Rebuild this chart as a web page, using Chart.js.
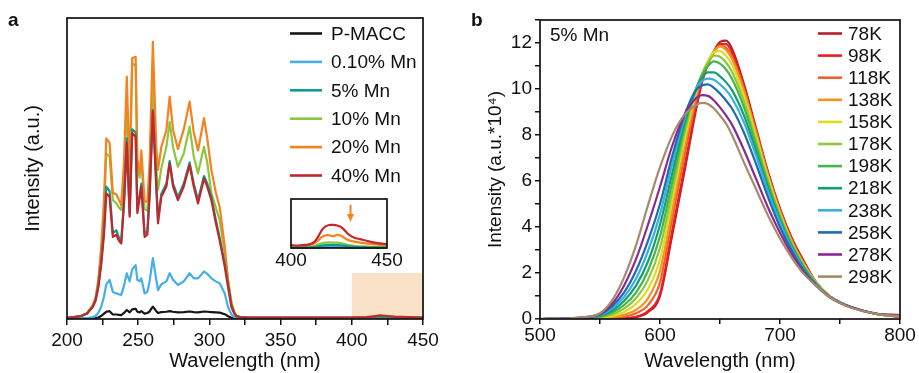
<!DOCTYPE html>
<html>
<head>
<meta charset="utf-8">
<script src="https://cdn.jsdelivr.net/npm/chart.js@4.4.0/dist/chart.umd.min.js"></script>
<style>
  html, body { margin: 0; padding: 0; background: #fff; }
  #pagina { position: relative; width: 919px; height: 373px; overflow: hidden; font-family: 'Liberation Sans', Arial, sans-serif; color: #111; }
  .caixa { position: absolute; }
  .letra { position: absolute; font-weight: bold; font-size: 19px; line-height: 22px; }
</style>
</head>
<body>
<div id="pagina">
  <div class="caixa" style="left:0;top:0;width:460px;height:373px"><canvas id="graficoA"></canvas></div>
  <div class="caixa" style="left:270px;top:190px;width:140px;height:85px"><canvas id="graficoInset"></canvas></div>
  <div class="caixa" style="left:460px;top:0;width:459px;height:373px"><canvas id="graficoB"></canvas></div>
  <div class="letra" style="left:8px;top:9px">a</div>
  <div class="letra" style="left:471px;top:9px">b</div>
</div>
<script>
Chart.defaults.font.family = "'Liberation Sans', Arial, sans-serif";
Chart.defaults.color = '#111';

// ---------- painel a: espectros de excitação ----------
var comprimentoA = [200, 205, 210, 214, 218, 220, 222, 224, 226, 227.6, 229.9, 232.2, 234.6, 236.5, 238.1, 240, 242, 244, 245.8, 248.2,
    249.4, 251, 252.2, 254.5, 256.4, 258, 260.3, 262.7, 263.9, 266.2, 269.8, 272.1, 274.5, 277.9, 282, 286.1, 289, 292, 296.2, 298.5,
    301.4, 304.5, 307.2, 310.8, 313.1, 315.5, 317.5, 319, 322, 326, 330, 340, 350, 360, 370, 380, 390, 400, 410, 415, 420, 425, 430, 440, 450];

var pMacc = [0.1, 0.1, 0.1, 0.15, 0.2, 0.3, 0.5, 1.0, 1.8, 2.4, 2.6, 1.5, 1.5, 1.4, 1.3, 2.0, 3.0, 2.2, 3.2, 3.4,
    2.4, 2.2, 2.6, 1.8, 2.0, 2.5, 4.1, 2.6, 2.0, 2.3, 2.4, 2.6, 2.4, 2.2, 2.3, 2.5, 2.3, 2.2, 2.5, 2.4,
    2.3, 2.2, 2.1, 1.6, 0.9, 0.4, 0.2, 0.1, 0.1, 0.1, 0.1, 0.1, 0.1, 0.1, 0.1, 0.1, 0.1, 0.1, 0.1, 0.1, 0.15, 0.1, 0.1, 0.1, 0.1];
var mn010 = [0.1, 0.15, 0.2, 0.3, 0.6, 1.0, 2.0, 4.0, 7.5, 11.5, 13, 9, 8.5, 8.2, 8, 11, 15.2, 12.5, 16.5, 17.9,
    13, 12.5, 13.5, 8.5, 9, 12.5, 20.2, 13, 9.6, 11.5, 12.5, 15.2, 13, 11.3, 12.5, 15.2, 13.5, 13.5, 15.8, 15,
    13.5, 12.5, 11.9, 8.5, 4.0, 1.5, 0.6, 0.3, 0.2, 0.15, 0.15, 0.15, 0.15, 0.15, 0.15, 0.15, 0.15, 0.15, 0.15, 0.15, 0.2, 0.25, 0.2, 0.15, 0.15];
var mn5 = [0.4, 0.6, 1.0, 1.8, 4.1, 6.2, 11, 19, 30, 44, 42.5, 28.5, 29.5, 27, 26, 39, 60, 35, 63, 62,
    36.5, 41, 45, 28.5, 29, 41.5, 69.5, 45, 33, 41.5, 45, 52.5, 45, 40.5, 45, 52, 45, 39.5, 47.5, 45,
    40.5, 33, 27, 18.2, 11.3, 4.3, 1.9, 0.9, 0.6, 0.5, 0.45, 0.45, 0.45, 0.45, 0.45, 0.45, 0.45, 0.45, 0.45, 0.5, 0.55, 0.5, 0.45, 0.45, 0.45];
var mn10 = [0.4, 0.6, 1.0, 1.8, 4.3, 6.5, 12, 22, 36, 55, 54, 39.5, 38.5, 37, 36.2, 46, 72, 46, 85, 84,
    50, 47, 53, 36.5, 36, 47, 82, 50, 42.9, 50, 57.2, 65.5, 57, 50.6, 55, 63.9, 54, 48.4, 57.2, 52,
    41.8, 37, 32.9, 21.8, 13, 5.5, 2.4, 1.1, 0.6, 0.5, 0.4, 0.4, 0.4, 0.4, 0.4, 0.4, 0.4, 0.4, 0.4, 0.45, 0.5, 0.45, 0.4, 0.4, 0.4];
var mn20 = [0.4, 0.6, 1.0, 1.8, 4.5, 7, 13, 24, 40, 60, 58.5, 41.8, 41.5, 39.5, 37.9, 52, 80.5, 48.5, 86.6, 87.1,
    52.8, 48.5, 56, 39, 39, 51.8, 92.1, 57.2, 49.5, 57, 62.8, 73.9, 62.8, 56.5, 63, 72.2, 62, 56, 66.7, 60,
    49.5, 42, 37.3, 24, 13, 5.2, 2.2, 1.0, 0.6, 0.5, 0.4, 0.4, 0.4, 0.4, 0.4, 0.4, 0.4, 0.4, 0.4, 0.5, 0.6, 0.5, 0.45, 0.4, 0.4];
var mn40 = [0.4, 0.6, 1.0, 1.8, 4.0, 6, 10.5, 18, 28, 41.7, 40.6, 27.3, 28, 26, 25.1, 38, 58.4, 34, 61.7, 60.6,
    35.2, 40, 44, 27.3, 28, 40.6, 68.9, 44, 31.8, 40.6, 44, 51.7, 44, 39.5, 44, 51.2, 44, 38.4, 46.7, 44,
    39.5, 32, 26.2, 17.4, 10.7, 4.0, 1.8, 0.9, 0.6, 0.5, 0.45, 0.45, 0.45, 0.45, 0.45, 0.45, 0.45, 0.5, 0.6, 0.9, 1.2, 1.0, 0.8, 0.6, 0.5];

var rotulosA = ['P-MACC', '0.10% Mn', '5% Mn', '10% Mn', '20% Mn', '40% Mn'];
var coresA = ['#161616', '#45aee8', '#11998c', '#8cc63f', '#f5821f', '#c1272d'];
var seriesA = [pMacc, mn010, mn5, mn10, mn20, mn40];
var ordemA = [5, 4, 1, 3, 2, 0];
var marcasA = [200, 250, 300, 350, 400, 450];
var faixaSombra = [400, 450];
var topoSombra = 15.3;

// ---------- inset 400-450 nm ----------
var comprimentoInset = [400, 403, 406, 409, 412, 414, 416, 418, 420, 422, 424, 426, 428, 430, 433, 436, 440, 445, 450];
var insetPMacc = [0, 0, 0, 0, 0.05, 0.1, 0.15, 0.2, 0.2, 0.2, 0.2, 0.2, 0.15, 0.1, 0.05, 0.05, 0, 0, 0];
var inset010 = [0, 0, 0.05, 0.05, 0.1, 0.2, 0.25, 0.3, 0.3, 0.3, 0.3, 0.25, 0.2, 0.15, 0.1, 0.1, 0.05, 0.05, 0.05];
var inset5 = [0.05, 0.05, 0.1, 0.1, 0.2, 0.35, 0.5, 0.6, 0.65, 0.65, 0.6, 0.55, 0.45, 0.35, 0.25, 0.2, 0.15, 0.1, 0.1];
var inset10 = [0.1, 0.1, 0.15, 0.2, 0.4, 0.7, 0.95, 1.1, 1.15, 1.1, 1.1, 1.0, 0.8, 0.6, 0.45, 0.35, 0.3, 0.2, 0.2];
var inset20 = [0.4, 0.3, 0.4, 0.5, 0.9, 1.5, 2.2, 2.6, 2.6, 2.4, 2.7, 2.5, 2.0, 1.6, 1.3, 1.1, 0.9, 0.7, 0.6];
var inset40 = [0.6, 0.5, 0.6, 0.7, 1.2, 2.2, 3.6, 4.4, 4.7, 4.7, 4.6, 4.3, 3.6, 2.8, 2.1, 1.8, 1.4, 1.0, 0.8];
var seriesInset = [insetPMacc, inset010, inset5, inset10, inset20, inset40];
var marcasInset = [400, 450];
var setaInset = { x: 431, de: 8.8, ate: 5.3 };

// ---------- painel b: 5% Mn, temperatura ----------
var comprimentoB = [500, 520, 540, 550, 560, 570, 580, 590, 600, 610, 620, 630, 635, 640, 645, 650, 655, 660, 670, 680,
    690, 700, 710, 720, 730, 740, 750, 760, 780, 800];
var k78 = [0, 0, 0, 0, 0, 0.02, 0.08, 0.3, 1.0, 3.6, 6.3, 9.1, 10.3, 11.1, 11.65, 12.05, 12.1, 11.75, 10.2, 8.3, 6.4, 4.8, 3.5, 2.5, 1.6, 1.05, 0.72, 0.5, 0.22, 0.1];
var k98 = [0, 0, 0, 0, 0.01, 0.03, 0.1, 0.35, 1.1, 3.8, 6.5, 9.2, 10.35, 11.1, 11.6, 11.95, 11.95, 11.6, 10.1, 8.2, 6.35, 4.75, 3.45, 2.45, 1.6, 1.05, 0.72, 0.5, 0.22, 0.1];
var k118 = [0, 0, 0.01, 0.02, 0.04, 0.1, 0.25, 0.6, 1.6, 4.3, 7.0, 9.5, 10.5, 11.15, 11.6, 11.88, 11.8, 11.4, 10.0, 8.15, 6.3, 4.7, 3.4, 2.4, 1.6, 1.05, 0.72, 0.5, 0.22, 0.1];
var k138 = [0, 0, 0.01, 0.03, 0.07, 0.18, 0.4, 0.9, 2.1, 4.7, 7.4, 9.7, 10.6, 11.2, 11.65, 11.85, 11.7, 11.3, 9.9, 8.1, 6.25, 4.65, 3.35, 2.38, 1.6, 1.05, 0.72, 0.5, 0.22, 0.12];
var k158 = [0, 0.01, 0.02, 0.05, 0.12, 0.3, 0.65, 1.3, 2.6, 5.1, 7.7, 9.85, 10.65, 11.2, 11.6, 11.65, 11.45, 11.05, 9.7, 7.95, 6.15, 4.6, 3.3, 2.35, 1.58, 1.05, 0.72, 0.5, 0.22, 0.12];
var k178 = [0, 0.01, 0.03, 0.08, 0.2, 0.45, 0.9, 1.7, 3.1, 5.5, 8.0, 9.95, 10.65, 11.15, 11.45, 11.4, 11.15, 10.75, 9.45, 7.75, 6.0, 4.5, 3.25, 2.3, 1.56, 1.04, 0.72, 0.5, 0.22, 0.12];
var k198 = [0, 0.01, 0.04, 0.1, 0.28, 0.6, 1.15, 2.1, 3.6, 5.9, 8.25, 10.0, 10.6, 11.0, 11.2, 11.1, 10.85, 10.45, 9.2, 7.55, 5.85, 4.4, 3.2, 2.25, 1.54, 1.03, 0.72, 0.5, 0.22, 0.13];
var k218 = [0, 0.02, 0.06, 0.14, 0.36, 0.78, 1.45, 2.5, 4.1, 6.3, 8.45, 10.0, 10.5, 10.72, 10.72, 10.55, 10.3, 9.95, 8.85, 7.3, 5.7, 4.3, 3.12, 2.2, 1.52, 1.02, 0.72, 0.5, 0.23, 0.13];
var k238 = [0, 0.02, 0.07, 0.17, 0.45, 0.95, 1.75, 2.95, 4.55, 6.7, 8.65, 10.0, 10.35, 10.45, 10.4, 10.2, 9.95, 9.6, 8.55, 7.1, 5.55, 4.2, 3.05, 2.15, 1.5, 1.02, 0.72, 0.5, 0.23, 0.14];
var k258 = [0, 0.02, 0.08, 0.2, 0.55, 1.15, 2.1, 3.4, 5.0, 7.05, 8.8, 9.95, 10.15, 10.2, 10.05, 9.8, 9.5, 9.15, 8.1, 6.75, 5.3, 4.0, 2.95, 2.1, 1.48, 1.01, 0.71, 0.5, 0.23, 0.15];
var k278 = [0, 0.02, 0.09, 0.22, 0.65, 1.45, 2.6, 4.1, 5.75, 7.5, 8.85, 9.6, 9.73, 9.7, 9.5, 9.2, 8.85, 8.45, 7.35, 6.1, 4.85, 3.75, 2.8, 2.02, 1.45, 1.0, 0.7, 0.5, 0.24, 0.17];
var k298 = [0, 0.02, 0.1, 0.25, 0.8, 1.8, 3.2, 4.95, 6.6, 7.95, 8.85, 9.3, 9.4, 9.35, 9.15, 8.85, 8.5, 8.0, 6.8, 5.65, 4.5, 3.5, 2.65, 1.95, 1.45, 1.0, 0.7, 0.48, 0.22, 0.12];

var temperaturas = ['78K', '98K', '118K', '138K', '158K', '178K', '198K', '218K', '238K', '258K', '278K', '298K'];
var coresB = ['#b5202a', '#ec1c24', '#f1602f', '#f7931e', '#d9df1f', '#8dc63f', '#45b649', '#12a06e', '#3aaee2', '#1c6cb4', '#8a2a90', '#a88a6b'];
var seriesB = [k78, k98, k118, k138, k158, k178, k198, k218, k238, k258, k278, k298];
var marcasBx = [500, 600, 700, 800];
var marcasBy = [0, 2, 4, 6, 8, 10, 12];

function pontos(xs, ys) {
    return xs.map(function (x, i) { return { x: x, y: ys[i] }; });
}

// moldura preta em volta da área do gráfico
var moldura = {
    id: 'moldura',
    afterDatasetsDraw: function (chart) {
        var ctx = chart.ctx, a = chart.chartArea;
        ctx.save();
        ctx.strokeStyle = '#111';
        ctx.lineWidth = 1.7;
        ctx.strokeRect(a.left, a.top, a.right - a.left, a.bottom - a.top);
        ctx.restore();
    }
};

function legendaManual(x0, x1, xTexto, y0, passo, tamanho) {
    return {
        id: 'legendaManual',
        afterDraw: function (chart) {
            var ctx = chart.ctx;
            ctx.save();
            ctx.font = tamanho + "px 'Liberation Sans', Arial, sans-serif";
            ctx.textBaseline = 'middle';
            ctx.textAlign = 'left';
            chart.data.datasets.forEach(function (ds, i) {
                var y = y0 + i * passo;
                ctx.strokeStyle = ds.borderColor;
                ctx.lineWidth = 2.6;
                ctx.beginPath();
                ctx.moveTo(x0, y);
                ctx.lineTo(x1, y);
                ctx.stroke();
                ctx.fillStyle = '#111';
                ctx.fillText(ds.label, xTexto, y + 1);
            });
            ctx.restore();
        }
    };
}

var sombra = {
    id: 'sombra',
    beforeDatasetsDraw: function (chart) {
        var ctx = chart.ctx, x = chart.scales.x, y = chart.scales.y;
        var xa = x.getPixelForValue(faixaSombra[0]), xb = x.getPixelForValue(faixaSombra[1]);
        var yt = y.getPixelForValue(topoSombra);
        ctx.save();
        ctx.fillStyle = '#fae2c8';
        ctx.fillRect(xa, yt, xb - xa, chart.chartArea.bottom - yt);
        ctx.restore();
    }
};

var dadosA = {
    datasets: seriesA.map(function (s, i) {
        return {
            label: rotulosA[i],
            data: pontos(comprimentoA, s),
            borderColor: coresA[i],
            borderWidth: 2.2,
            pointRadius: 0,
            tension: 0,
            borderJoinStyle: 'round',
            order: ordemA[i]
        };
    })
};

new Chart(document.getElementById('graficoA'), {
    type: 'line',
    data: dadosA,
    options: {
        responsive: true,
        maintainAspectRatio: false,
        animation: false,
        events: [],
        layout: { padding: { left: 0, right: 37, top: 18, bottom: 0 } },
        plugins: { legend: { display: false }, tooltip: { enabled: false } },
        scales: {
            x: {
                type: 'linear', min: 200, max: 450,
                ticks: {
                    stepSize: 25, autoSkip: false, maxRotation: 0, padding: 4,
                    font: { size: 19 }, color: '#111',
                    callback: function (v) { return marcasA.indexOf(v) >= 0 ? String(v) : ''; }
                },
                grid: { display: true, drawOnChartArea: false, drawTicks: true, tickLength: 6, color: '#111', lineWidth: 1.5 },
                border: { display: false },
                title: { display: true, text: 'Wavelength (nm)', font: { size: 20 }, color: '#111', padding: { top: 0, bottom: 0 } },
                afterFit: function (s) { s.height = 54; }
            },
            y: {
                min: 0, max: 100,
                ticks: { display: false },
                grid: { display: false },
                border: { display: false },
                title: { display: true, text: 'Intensity (a.u.)', font: { size: 20 }, color: '#111', padding: { top: 21, bottom: 0 } },
                afterFit: function (s) { s.width = 67; }
            }
        }
    },
    plugins: [sombra, moldura, legendaManual(290, 322, 331, 33.5, 28.4, 19)]
});

// inset
var seta = {
    id: 'seta',
    afterDraw: function (chart) {
        var ctx = chart.ctx;
        var px = chart.scales.x.getPixelForValue(setaInset.x);
        var y1 = chart.scales.y.getPixelForValue(setaInset.de);
        var y2 = chart.scales.y.getPixelForValue(setaInset.ate);
        ctx.save();
        ctx.strokeStyle = '#f5821f';
        ctx.fillStyle = '#f5821f';
        ctx.lineWidth = 2;
        ctx.beginPath();
        ctx.moveTo(px, y1);
        ctx.lineTo(px, y2 - 6);
        ctx.stroke();
        ctx.beginPath();
        ctx.moveTo(px - 3.5, y2 - 8);
        ctx.lineTo(px + 3.5, y2 - 8);
        ctx.lineTo(px, y2);
        ctx.closePath();
        ctx.fill();
        ctx.restore();
    }
};

new Chart(document.getElementById('graficoInset'), {
    type: 'line',
    data: {
        datasets: seriesInset.map(function (s, i) {
            return {
                label: rotulosA[i],
                data: pontos(comprimentoInset, s),
                borderColor: coresA[i],
                borderWidth: 2.2,
                pointRadius: 0,
                tension: 0.3,
                clip: false,
                order: ordemA[i]
            };
        })
    },
    options: {
        responsive: true,
        maintainAspectRatio: false,
        animation: false,
        events: [],
        layout: { padding: { left: 21, right: 23, top: 9, bottom: 0 } },
        plugins: { legend: { display: false }, tooltip: { enabled: false } },
        scales: {
            x: {
                type: 'linear', min: 400, max: 450,
                ticks: {
                    stepSize: 50, autoSkip: false, maxRotation: 0, padding: 1,
                    font: { size: 19 }, color: '#111',
                    callback: function (v) { return marcasInset.indexOf(v) >= 0 ? String(v) : ''; }
                },
                grid: { display: false, drawTicks: false, tickLength: 0 },
                border: { display: false },
                afterFit: function (s) { s.height = 27; }
            },
            y: { display: false, min: 0, max: 10 }
        }
    },
    plugins: [moldura, seta]
});

// painel b
var rotuloB = {
    id: 'rotuloB',
    afterDraw: function (chart) {
        var ctx = chart.ctx;
        ctx.save();
        ctx.font = "19px 'Liberation Sans', Arial, sans-serif";
        ctx.fillStyle = '#111';
        ctx.textBaseline = 'middle';
        ctx.fillText('5% Mn', 90, 36);
        ctx.restore();
    }
};

new Chart(document.getElementById('graficoB'), {
    type: 'line',
    data: {
        datasets: seriesB.map(function (s, i) {
            return {
                label: temperaturas[i],
                data: pontos(comprimentoB, s),
                borderColor: coresB[i],
                borderWidth: 2.2,
                pointRadius: 0,
                cubicInterpolationMode: 'monotone',
                order: seriesB.length - 1 - i
            };
        })
    },
    options: {
        responsive: true,
        maintainAspectRatio: false,
        animation: false,
        events: [],
        layout: { padding: { left: 0, right: 19, top: 20, bottom: 0 } },
        plugins: { legend: { display: false }, tooltip: { enabled: false } },
        scales: {
            x: {
                type: 'linear', min: 500, max: 800,
                ticks: {
                    stepSize: 50, autoSkip: false, maxRotation: 0, padding: 0,
                    font: { size: 19 }, color: '#111',
                    callback: function (v) { return marcasBx.indexOf(v) >= 0 ? String(v) : ''; }
                },
                grid: { display: true, drawOnChartArea: false, drawTicks: true, tickLength: 5, color: '#111', lineWidth: 1.5 },
                border: { display: false },
                title: { display: true, text: 'Wavelength (nm)', font: { size: 20 }, color: '#111', padding: { top: 0, bottom: 0 } },
                afterFit: function (s) { s.height = 54; }
            },
            y: {
                min: 0, max: 13,
                ticks: {
                    stepSize: 1, autoSkip: false, padding: 3,
                    font: { size: 19 }, color: '#111',
                    callback: function (v) { return marcasBy.indexOf(v) >= 0 ? String(v) : ''; }
                },
                grid: { display: true, drawOnChartArea: false, drawTicks: true, tickLength: 5, color: '#111', lineWidth: 1.5 },
                border: { display: false },
                title: { display: true, text: 'Intensity (a.u.*10\u2074)', font: { size: 19 }, color: '#111', padding: { top: 24, bottom: 0 } },
                afterFit: function (s) { s.width = 80; }
            }
        }
    },
    plugins: [moldura, rotuloB, legendaManual(358, 382, 388, 33.5, 22.1, 19)]
});
</script>
</body>
</html>
